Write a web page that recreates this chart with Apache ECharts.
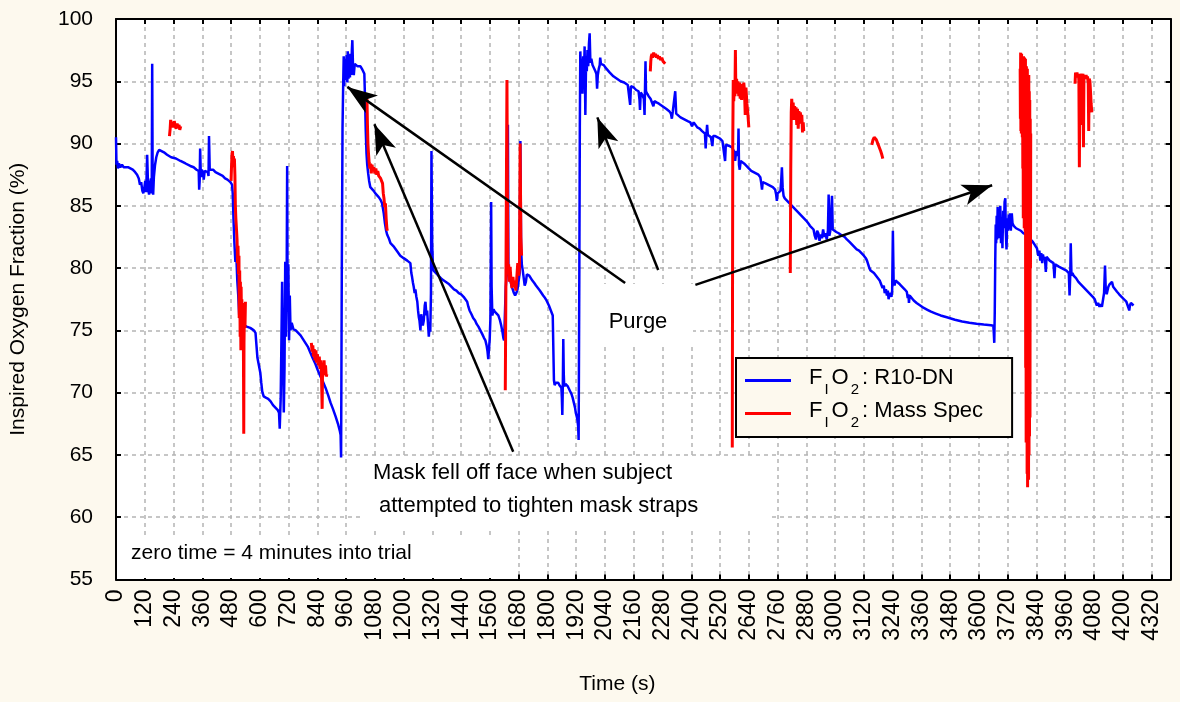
<!DOCTYPE html>
<html><head><meta charset="utf-8">
<script src="https://cdn.jsdelivr.net/npm/echarts@6/dist/echarts.min.js"></script>
<style>html,body{margin:0;padding:0;background:#fdf9ee;}#chart{width:1180px;height:702px;}</style>
</head><body><div id="chart"></div>
<script>
// ---------- data (time in s, FIO2 in %) ----------
const xMin = 0, xMax = 4400, xStep = 120;
const yMin = 55, yMax = 100, yStep = 5;
const seriesNames = ['FIO2: R10-DN', 'FIO2: Mass Spec'];

const blueData = [
[0,90.5],[2,88.3],[5,88.6],[8,88.0],[12,88.4],[18,88.1],[25,88.3],[32,88.1],[40,88.2],[50,88.1],[60,88.0],[70,87.9],[80,87.7],[88,87.5],[95,87.2],[100,86.7],[105,86.9],[110,86.2],[114,86.0],[118,86.4],[122,87.0],[126,86.1],[130,89.1],[134,86.4],[138,85.9],[142,86.8],[146,87.2],[149,86.0],[151,96.4],[153,86.5],[155,85.9],[158,87.3],[163,88.3],[168,88.9],[174,89.3],[180,89.5],[190,89.4],[200,89.3],[213,89.1],[230,88.9],[250,88.8],[269,88.6],[290,88.4],[310,88.2],[324,88.1],[336,87.9],[345,87.8],[347,86.3],[349,87.0],[351,89.6],[354,87.3],[358,87.9],[363,87.7],[366,87.1],[370,87.8],[377,87.9],[383,87.7],[386,87.4],[388,90.6],[391,87.9],[396,88.0],[405,87.9],[415,87.7],[425,87.6],[435,87.5],[445,87.4],[455,87.2],[465,87.1],[477,86.9],[484,86.7],
[487,86.0],[490,84.0],[494,82.0],[498,80.5],[502,81.0],[506,79.0],[510,77.8],[514,76.2],[519,75.9],[526,75.6],[535,75.4],[545,75.3],[560,75.2],[575,75.0],[582,74.8],[586,73.8],[590,72.8],[596,72.2],[602,71.6],[606,70.8],[610,70.1],[616,69.7],[625,69.6],[635,69.5],[645,69.3],[655,69.0],[665,68.8],[675,68.6],[680,68.4],[683,67.1],[687,69.5],[690,74.0],[693,78.9],[696,73.5],[700,68.4],[703,72.0],[706,80.5],[709,74.5],[712,79.2],[714,88.2],[716,76.5],[719,80.3],[722,74.2],[725,77.8],[728,75.0],[733,75.6],[740,75.1],[750,75.0],[760,74.8],[770,74.6],[780,74.3],[790,74.0],[800,73.7],[811,73.2],[820,72.8],[832,72.3],[842,71.8],[853,71.3],[863,70.9],[874,70.4],[885,69.8],[895,69.2],[905,68.7],[916,68.1],[926,67.5],[934,66.9],[937,66.6],[939,64.8],[942,80.0],[945,91.3],
[948,95.0],[950,97.0],[952,94.6],[955,96.8],[958,95.1],[962,97.1],[965,94.9],[967,97.4],[970,95.2],[974,96.9],[976,95.3],[978,97.2],[981,95.5],[984,97.5],[986,98.3],[989,96.0],[992,95.5],[996,96.4],[1000,96.3],[1008,96.2],[1015,96.1],[1020,96.2],[1026,96.0],[1031,95.9],[1036,95.6],[1039,93.5],[1042,91.0],[1045,89.2],[1048,88.3],[1052,87.6],[1056,87.0],[1061,86.5],[1068,86.4],[1075,86.2],[1082,86.0],[1089,85.9],[1096,85.7],[1103,85.5],[1110,85.2],[1117,84.4],[1122,83.6],[1127,83.0],[1131,82.7],[1138,82.4],[1145,82.0],[1160,81.7],[1175,81.3],[1186,81.0],[1200,80.8],[1215,80.6],[1228,80.4],[1232,79.6],[1235,79.3],[1239,78.8],[1242,78.5],[1246,78.0],[1249,78.3],[1253,77.7],[1257,77.3],[1260,76.6],[1263,76.1],[1266,75.8],[1270,75.0],[1273,76.3],[1277,76.4],[1280,75.4],[1284,75.8],[1288,77.0],[1291,77.3],[1295,76.2],[1298,76.6],[1302,75.4],[1305,74.5],[1308,75.3],[1311,74.9],[1314,78.0],[1316,89.4],[1319,82.0],[1322,80.2],[1325,79.8],
[1335,79.6],[1345,79.4],[1360,79.1],[1375,78.9],[1390,78.7],[1400,78.5],[1410,78.3],[1420,78.2],[1430,78.0],[1440,77.9],[1450,77.7],[1458,77.6],[1465,77.3],[1470,76.9],[1475,76.6],[1483,76.3],[1490,76.0],[1498,75.8],[1505,75.5],[1512,75.3],[1520,75.0],[1528,74.7],[1535,74.4],[1541,74.2],[1546,73.8],[1550,73.3],[1553,72.7],[1556,73.5],[1559,74.3],[1562,76.0],[1565,85.3],[1567,78.5],[1570,76.2],[1575,76.7],[1580,76.5],[1587,76.6],[1595,76.2],[1602,75.8],[1607,75.4],[1612,74.9],[1616,74.4],[1619,74.2],[1622,76.0],[1626,78.5],[1630,79.5],[1633,80.2],[1635,91.5],[1637,80.0],[1641,79.2],[1645,79.0],[1650,78.6],[1655,78.3],[1660,78.0],[1665,77.8],[1670,78.0],[1675,78.3],[1680,79.0],[1684,79.6],[1687,90.2],[1690,81.5],[1693,80.3],[1697,79.8],[1701,79.2],[1705,78.6],[1710,78.9],[1714,79.5],[1718,79.6],[1724,79.4],[1730,79.3],[1737,79.0],[1745,78.8],[1752,78.6],[1760,78.4],[1768,78.2],[1775,78.0],[1782,77.8],[1790,77.6],[1796,77.4],[1800,77.3],[1806,77.0],[1812,76.7],[1818,76.4],[1822,76.2],[1825,73.0],[1827,71.0],[1830,70.6],[1835,70.8],[1840,70.7],[1845,70.8],[1850,70.6],[1855,70.5],[1858,70.4],[1860,69.6],[1862,68.2],[1864,70.5],[1866,74.3],[1868,71.5],[1870,70.5],[1875,70.7],[1880,70.6],[1885,70.5],[1890,70.4],[1895,70.1],[1900,69.9],[1905,69.6],[1910,69.2],[1915,68.8],[1918,68.4],[1922,68.1],[1925,67.8],[1928,67.3],[1930,66.2],
[1933,80.0],[1935,91.4],[1937,97.4],[1940,95.5],[1943,96.8],[1946,94.0],[1949,97.0],[1952,95.2],[1955,97.8],[1958,92.3],[1961,96.5],[1964,95.8],[1967,97.5],[1970,96.2],[1973,98.0],[1976,98.85],[1979,96.5],[1983,96.8],[1988,96.3],[1994,96.2],[2000,95.8],[2004,95.6],[2007,94.4],[2010,95.5],[2014,96.0],[2018,96.3],[2020,96.9],[2023,96.4],[2027,96.5],[2035,96.3],[2042,96.1],[2048,96.0],[2060,95.7],[2075,95.4],[2090,95.2],[2105,95.0],[2120,94.9],[2135,94.7],[2142,94.6],[2145,93.1],[2148,94.6],[2160,94.5],[2170,94.3],[2180,94.2],[2184,93.5],[2186,92.7],[2189,94.1],[2196,93.9],[2202,93.6],[2205,92.3],[2207,94.5],[2209,96.6],[2211,94.2],[2216,94.0],[2222,93.8],[2230,93.6],[2238,93.5],[2242,93.0],[2246,93.4],
[2255,93.3],[2265,93.2],[2280,93.0],[2295,92.8],[2308,92.6],[2315,92.4],[2319,92.0],[2323,92.6],[2328,92.5],[2333,94.2],[2337,92.4],[2345,92.3],[2355,92.1],[2365,92.0],[2375,91.9],[2385,91.8],[2396,91.7],[2403,91.4],[2410,91.7],[2417,91.6],[2425,91.3],[2435,91.2],[2445,91.0],[2452,90.9],[2457,90.8],[2460,89.6],[2463,90.7],[2466,91.5],[2469,90.7],[2475,90.6],[2482,90.5],[2486,90.4],[2488,89.8],[2491,90.6],[2500,90.6],[2510,90.5],[2520,90.4],[2530,90.2],[2538,90.1],[2541,88.6],[2544,89.9],[2550,90.0],[2560,89.8],[2570,89.7],[2576,89.6],[2580,89.3],[2583,88.6],[2587,89.4],[2592,89.2],[2595,89.0],[2597,91.2],[2599,88.3],[2602,87.9],[2606,88.6],[2612,88.7],[2620,88.4],[2630,88.2],[2640,88.0],[2650,87.8],[2660,87.7],[2670,87.6],[2680,87.5],[2688,87.3],[2692,86.8],[2695,86.3],[2698,86.9],[2701,87.0],
[2710,86.8],[2720,86.7],[2730,86.6],[2740,86.5],[2750,86.3],[2754,85.9],[2757,85.4],[2760,86.0],[2766,86.0],[2772,86.2],[2775,87.0],[2778,88.1],[2781,86.5],[2785,85.8],[2790,85.6],[2800,85.4],[2810,85.2],[2820,85.0],[2830,84.8],[2840,84.6],[2850,84.4],[2860,84.2],[2870,84.0],[2880,83.8],[2888,83.6],[2895,83.4],[2902,83.3],[2910,83.1],[2915,82.6],[2920,82.3],[2925,83.0],[2930,82.8],[2935,82.2],[2940,82.7],[2945,82.4],[2950,83.1],[2955,82.5],[2960,82.8],[2965,82.3],[2970,83.0],[2973,85.9],[2976,82.6],[2980,83.0],[2984,82.9],[2987,85.8],[2990,83.1],[2995,83.0],[3005,82.9],[3015,82.8],[3030,82.6],[3040,82.5],[3049,82.3],[3060,82.1],[3070,81.9],[3080,81.7],[3090,81.5],[3100,81.4],[3110,81.2],[3120,81.0],[3128,80.8],[3133,80.6],[3138,80.3],[3143,80.0],[3148,79.8],[3155,79.7],[3162,79.6],[3170,79.4],[3178,79.2],[3186,79.0],[3192,78.7],[3198,78.4],[3203,78.6],[3207,78.0],[3212,78.3],[3216,77.8],[3220,78.2],[3223,77.5],[3227,78.0],[3231,77.9],[3235,77.7],[3238,78.2],[3241,83.0],[3244,79.0],[3248,78.6],
[3252,79.0],[3260,78.9],[3270,78.7],[3280,78.5],[3290,78.3],[3299,78.1],[3303,77.6],[3306,77.9],[3308,77.2],[3311,77.8],[3318,77.7],[3328,77.4],[3340,77.2],[3355,77.0],[3370,76.8],[3385,76.65],[3400,76.5],[3420,76.35],[3440,76.2],[3466,76.05],[3500,75.85],[3530,75.72],[3560,75.62],[3590,75.53],[3620,75.47],[3650,75.42],[3660,75.38],[3662,74.8],[3664,74.0],[3666,76.5],
[3668,80.5],[3670,83.5],[3672,82.0],[3674,84.2],[3676,82.3],[3678,84.9],[3680,82.6],[3683,83.8],[3686,82.4],[3689,85.0],[3692,82.0],[3695,84.1],[3698,81.6],[3701,84.6],[3704,83.2],[3707,85.3],[3710,85.6],[3712,83.0],[3715,81.5],[3718,84.0],[3721,83.0],[3724,84.3],[3727,83.1],[3730,84.4],[3733,83.0],[3737,84.4],[3740,83.6],[3745,83.4],[3755,83.2],[3765,83.1],[3775,83.0],[3785,82.8],[3795,82.7],[3805,82.5],
[3815,82.3],[3825,82.1],[3835,81.8],[3842,81.6],[3848,81.0],[3852,81.4],[3856,80.6],[3860,81.2],[3864,80.4],[3867,81.1],[3871,80.7],[3875,80.9],[3879,79.7],[3882,80.9],[3888,80.8],[3895,80.6],[3903,80.5],[3911,80.4],[3915,79.2],[3918,80.3],[3925,80.2],[3935,80.1],[3945,80.0],[3955,79.9],[3965,79.8],[3975,79.6],[3978,77.8],[3981,79.5],[3983,82.0],[3986,79.4],[3990,79.6],[3995,79.4],[4005,79.2],[4015,78.9],[4025,78.7],[4035,78.5],[4045,78.3],[4055,78.1],[4065,77.9],[4075,77.7],[4083,77.5],[4088,77.2],[4092,77.0],[4097,77.2],[4103,76.9],[4108,77.1],[4113,76.9],[4118,77.5],[4122,78.0],[4126,80.2],[4129,78.3],[4133,77.9],[4140,78.5],[4145,78.7],[4150,78.8],[4155,78.9],[4160,78.5],[4168,78.3],[4176,78.1],[4185,77.9],[4195,77.7],[4205,77.5],[4215,77.3],[4220,77.2],[4224,76.8],[4227,76.6],[4230,77.0],[4234,77.2],[4238,77.1],[4245,77.0]
];

// null values break the mass-spec trace into its separate recordings
const redData = [
[223,90.6],[226,91.2],[228,91.9],[231,91.5],[235,91.7],[239,91.3],[243,91.8],[247,91.4],[251,91.2],[255,91.6],[259,91.3],[263,91.5],[266,91.1],[270,91.4],
[272,null],
[480,87.0],[482,88.2],[484,89.2],[486,89.4],[488,88.4],[490,89.0],[492,88.1],[494,88.8],[496,87.5],[498,85.0],[500,84.0],[503,83.0],[505,82.3],[507,80.4],[509,81.8],[511,79.5],[513,81.0],[514,76.0],[516,79.8],[518,74.5],[519,78.9],[521,73.4],[522,78.5],[524,75.0],[525,77.5],[527,73.8],[528,77.0],[530,74.5],[531,76.5],[533,66.7],[534,74.0],[536,77.2],[538,75.2],[540,77.3],
[545,null],
[815,74.0],[818,73.3],[821,73.8],[824,72.9],[827,73.5],[830,72.6],[834,73.4],[837,72.4],[840,73.1],[844,72.2],[848,72.9],[851,71.9],[854,72.6],[857,71.6],[860,68.7],[862,72.4],[865,71.5],[868,72.6],[871,71.4],[874,72.2],[877,71.3],[880,71.5],
[885,null],
[1047,93.6],[1049,91.5],[1051,90.0],[1053,89.3],[1056,88.5],[1059,88.0],[1062,88.4],[1065,87.6],[1068,88.3],[1072,87.8],[1076,88.1],[1080,87.6],[1084,88.0],[1088,87.5],[1092,87.8],[1096,87.4],[1100,87.5],[1104,87.2],[1108,87.3],[1112,86.8],[1115,86.0],[1118,85.6],[1121,84.9],[1124,85.2],[1127,84.0],[1130,83.2],[1132,83.0],
[1135,null],
[1624,70.2],[1627,80.0],[1629,88.0],[1631,95.1],[1633,86.0],[1635,79.5],[1638,80.3],[1641,78.9],[1644,80.1],[1648,79.0],[1652,78.4],[1656,79.3],[1660,78.5],[1664,79.0],[1668,78.2],[1672,79.2],[1676,80.4],[1680,79.4],[1683,80.0],[1686,90.0],[1689,82.5],[1692,81.0],
[1700,null],
[2229,95.8],[2231,96.6],[2233,97.0],[2236,97.2],[2239,96.9],[2243,97.3],[2247,97.0],[2251,97.2],[2255,96.9],[2259,97.1],[2263,96.8],[2267,97.0],[2272,96.7],[2277,96.9],[2282,96.6],[2287,96.7],[2291,96.4],
[2300,null],
[2571,65.6],[2573,90.0],[2575,95.1],[2577,93.4],[2580,94.7],[2582,93.8],[2584,97.5],[2586,94.0],[2589,95.2],[2592,94.2],[2595,95.0],[2598,93.8],[2601,94.9],[2604,93.6],[2607,94.7],[2610,93.5],[2613,94.8],[2616,94.0],[2619,94.9],[2622,94.2],[2625,92.3],[2628,94.5],[2632,93.2],[2636,92.4],[2640,91.3],
[2650,null],
[2813,79.6],[2815,88.0],[2817,92.5],[2819,93.6],[2822,92.4],[2825,93.3],[2828,91.9],[2831,93.0],[2834,92.0],[2837,92.9],[2840,91.5],[2843,92.8],[2846,91.2],[2849,92.6],[2852,91.8],[2855,92.5],[2858,91.6],[2861,92.3],[2864,90.9],[2867,91.7],[2869,91.0],
[2880,null],
[3153,89.9],[3158,90.3],[3163,90.5],[3167,90.55],[3172,90.3],[3178,90.0],[3184,89.7],[3190,89.4],[3195,89.1],[3199,88.8],
[3210,null],
[3772,96.0],[3773,92.0],[3774,97.3],[3775,91.0],[3776,96.8],[3777,90.8],[3778,97.2],[3779,91.5],[3780,96.9],[3781,90.5],[3782,97.0],[3783,88.0],[3784,96.5],[3785,84.0],[3786,97.0],[3787,86.0],[3788,96.7],[3789,83.2],[3790,96.9],[3791,85.0],[3792,96.3],[3793,83.0],[3794,96.8],[3795,72.0],[3796,95.5],[3797,66.0],[3798,96.2],[3799,68.0],[3800,95.0],[3801,63.5],[3802,96.0],[3803,62.4],[3804,95.5],[3805,64.5],[3806,94.8],[3807,63.0],[3808,95.5],[3809,65.0],[3810,94.2],[3811,66.5],[3812,93.5],[3813,68.0],[3814,92.0],[3815,80.0],[3816,90.8],
[3830,null],
[4001,94.8],[4003,95.7],[4006,95.4],[4009,95.7],[4012,95.3],[4015,95.6],[4017,95.0],[4019,88.1],[4021,95.5],[4024,95.3],[4027,95.6],[4029,91.5],[4031,95.4],[4034,95.6],[4036,89.7],[4038,95.2],[4041,95.5],[4044,95.3],[4047,95.5],[4050,95.2],[4053,95.4],[4056,94.8],[4058,91.0],[4060,95.2],[4063,95.0],[4066,94.0],[4068,93.2],[4071,92.5]
];

// annotation arrows: [from(time, %), to(time, %)]
const arrows = [
  [[2124, 78.8], [965, 94.55]],
  [[2262, 79.85], [2008, 92.1]],
  [[2417, 78.65], [3655, 86.65]],
  [[1657, 65.25], [1078, 91.55]]
];

// ---------- chart ----------
const FONT = '"Liberation Sans", Arial, Helvetica, sans-serif';
const chart = echarts.init(document.getElementById('chart'), null, {renderer: 'canvas'});
const gridLine = {show: true, lineStyle: {color: '#b4b4b4', width: 1.5, type: [4, 4]}};
const axisLine = {show: true, onZero: false, lineStyle: {color: '#000', width: 2}};
const tick = {show: true, inside: true, length: 5, lineStyle: {color: '#000', width: 2}};

chart.setOption({
  animation: false,
  backgroundColor: '#fdf9ee',
  textStyle: {fontFamily: FONT, color: '#000'},
  grid: {left: 115.5, right: 9.3, top: 19, bottom: 122.5, show: true, backgroundColor: '#ffffff', borderWidth: 0},
  xAxis: [{
    type: 'value', min: xMin, max: xMax, interval: xStep, position: 'bottom',
    name: 'Time (s)', nameLocation: 'middle', nameGap: 94,
    nameTextStyle: {fontSize: 21, color: '#000', fontFamily: FONT, padding: [0, 52, 0, 0]},
    axisLine, axisTick: tick, splitLine: gridLine,
    axisLabel: {rotate: 90, fontSize: 23, color: '#000', margin: 10, showMaxLabel: false, fontFamily: FONT,
      formatter: function (v) { return String(v); }}
  }, {
    type: 'value', min: xMin, max: xMax, interval: xStep, position: 'top',
    axisLine, axisTick: tick, splitLine: {show: false}, axisLabel: {show: false}
  }],
  yAxis: [{
    type: 'value', min: yMin, max: yMax, interval: yStep, position: 'left',
    name: 'Inspired Oxygen Fraction (%)', nameLocation: 'middle', nameGap: 87,
    nameTextStyle: {fontSize: 21, color: '#000', fontFamily: FONT},
    axisLine, axisTick: tick, splitLine: gridLine,
    axisLabel: {fontSize: 21, color: '#000', margin: 23, fontFamily: FONT}
  }, {
    type: 'value', min: yMin, max: yMax, interval: yStep, position: 'right',
    axisLine, axisTick: tick, splitLine: {show: false}, axisLabel: {show: false}
  }],
  legend: {
    data: seriesNames, orient: 'vertical', left: 736, top: 358,
    padding: [9, 29, 7, 9], itemGap: 3, itemWidth: 46, itemHeight: 3, icon: 'rect',
    backgroundColor: '#fdf9ee', borderColor: '#000', borderWidth: 2, borderRadius: 0,
    selectedMode: false,
    textStyle: {
      color: '#000', fontFamily: FONT, fontSize: 22, padding: [3, 0, 0, 13],
      rich: {
        n: {fontSize: 22, fontFamily: FONT, color: '#000', verticalAlign: 'top'},
        s: {fontSize: 15, fontFamily: FONT, color: '#000', verticalAlign: 'bottom', lineHeight: 30, padding: [0, 3, 0, 2]}
      }
    },
    formatter: function (name) {
      const rest = name.replace('FIO2', '');
      return '{n|F}{s|I}{n|O}{s|2}{n|' + rest + '}';
    }
  },
  graphic: [
    {type: 'rect', z: 1, silent: true, shape: {x: 580, y: 284, width: 113, height: 60}, style: {fill: '#ffffff'}},
    {type: 'rect', z: 1, silent: true, shape: {x: 364, y: 457, width: 404, height: 72}, style: {fill: '#ffffff'}},
    {type: 'rect', z: 1, silent: true, shape: {x: 118, y: 536, width: 387, height: 42}, style: {fill: '#ffffff'}},
    {type: 'text', z: 10, silent: true, x: 638, y: 322, style: {text: 'Purge', font: '22px ' + FONT, fill: '#000', align: 'center', verticalAlign: 'middle'}},
    {type: 'text', z: 10, silent: true, x: 373, y: 473, style: {text: 'Mask fell off face when subject', font: '22px ' + FONT, fill: '#000', align: 'left', verticalAlign: 'middle'}},
    {type: 'text', z: 10, silent: true, x: 379, y: 506, style: {text: 'attempted to tighten mask straps', font: '22px ' + FONT, fill: '#000', align: 'left', verticalAlign: 'middle'}},
    {type: 'text', z: 10, silent: true, x: 131, y: 553, style: {text: 'zero time = 4 minutes into trial', font: '21px ' + FONT, fill: '#000', align: 'left', verticalAlign: 'middle'}}
  ],
  series: [{
    name: seriesNames[0], type: 'line', symbol: 'none', showSymbol: false,
    data: blueData, color: '#0000ff', itemStyle: {color: '#0000ff'},
    lineStyle: {color: '#0000ff', width: 2.5}, silent: true, z: 2
  }, {
    name: seriesNames[1], type: 'line', symbol: 'none', showSymbol: false, connectNulls: false,
    data: redData, color: '#ff0000', itemStyle: {color: '#ff0000'},
    lineStyle: {color: '#ff0000', width: 3}, silent: true, z: 3,
    markLine: {
      silent: true, animation: false, symbol: ['none', 'arrow'], symbolSize: [16, 30],
      label: {show: false}, emphasis: {disabled: true},
      lineStyle: {color: '#000', width: 2.5, type: 'solid'},
      data: arrows.map(a => [{coord: a[0]}, {coord: a[1]}])
    }
  }]
});
</script>
</body></html>
